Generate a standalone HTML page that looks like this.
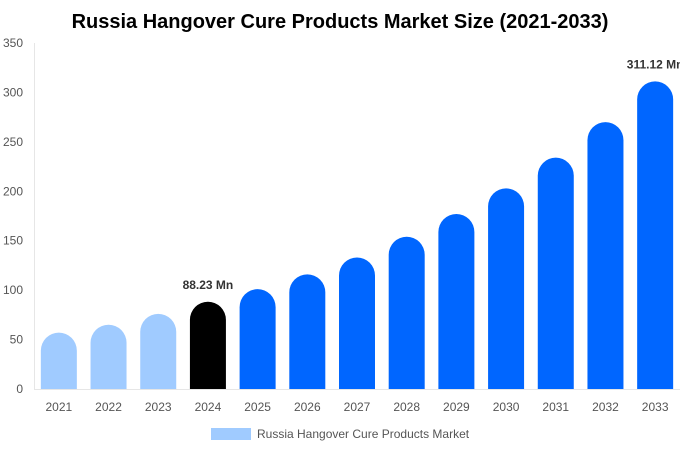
<!DOCTYPE html>
<html><head><meta charset="utf-8"><style>
body{margin:0;background:#fff;}
svg{display:block;font-family:"Liberation Sans",Arial,sans-serif;}
</style></head><body>
<svg id="chart" width="680" height="450">
<text x="340" y="28" text-anchor="middle" font-size="20" font-weight="bold" fill="#000">Russia Hangover Cure Products Market Size (2021-2033)</text>
<line x1="34.5" y1="43" x2="34.5" y2="389" stroke="#e6e6e6"/>
<line x1="34" y1="389.5" x2="680" y2="389.5" stroke="#e6e6e6"/>
<g id="yticks"></g><g id="bars"></g><g id="xticks"></g>
<rect x="211" y="428" width="40" height="12" fill="#a0cbff"/>
<text x="257" y="438" font-size="12" fill="#555">Russia Hangover Cure Products Market</text>
</svg>
<script>
const categories=["2021","2022","2023","2024","2025","2026","2027","2028","2029","2030","2031","2032","2033"];
const values=[57,65,76,88.23,101,116,133,154,177,203,234,270,311.12];
const yTicks=[0,50,100,150,200,250,300,350];
const labels={3:"88.23 Mn",12:"311.12 Mn"};
const ns="http://www.w3.org/2000/svg";
const y0=389,yTop=43,yMax=350,x0=34,x1=680;
const ys=v=>y0-(v/yMax)*(y0-yTop);
const step=(x1-x0)/categories.length;
const xs=i=>x0+step*(i+0.5);
const svg=document.getElementById('chart');
function mk(t,a,p){const e=document.createElementNS(ns,t);for(const k in a)e.setAttribute(k,a[k]);p.appendChild(e);return e;}
const yt=document.getElementById('yticks');
yTicks.forEach(v=>{const t=mk('text',{x:23,y:ys(v)+4,'text-anchor':'end','font-size':12,fill:'#555'},yt);t.textContent=v;

});
const bg=document.getElementById('bars'),xt=document.getElementById('xticks');
const w=36;
categories.forEach((c,i)=>{
const cx=xs(i),top=ys(values[i]),h=y0-top,r=Math.min(18,h);
const fill=i<3?'#a0cbff':(i==3?'#000':'#0066ff');
const p=mk('path',{d:`M${cx-w/2},${y0} L${cx-w/2},${top+r} A${w/2},${r} 0 0 1 ${cx+w/2},${top+r} L${cx+w/2},${y0} Z`,fill:fill},bg);


const t=mk('text',{x:cx,y:411,'text-anchor':'middle','font-size':12,fill:'#555'},xt);t.textContent=c;


if(labels[i]){const l=mk('text',{x:cx,y:top-13,'text-anchor':'middle','font-size':12,'font-weight':'bold',fill:'#333'},bg);l.textContent=labels[i];

}
});
</script>
</body></html>
